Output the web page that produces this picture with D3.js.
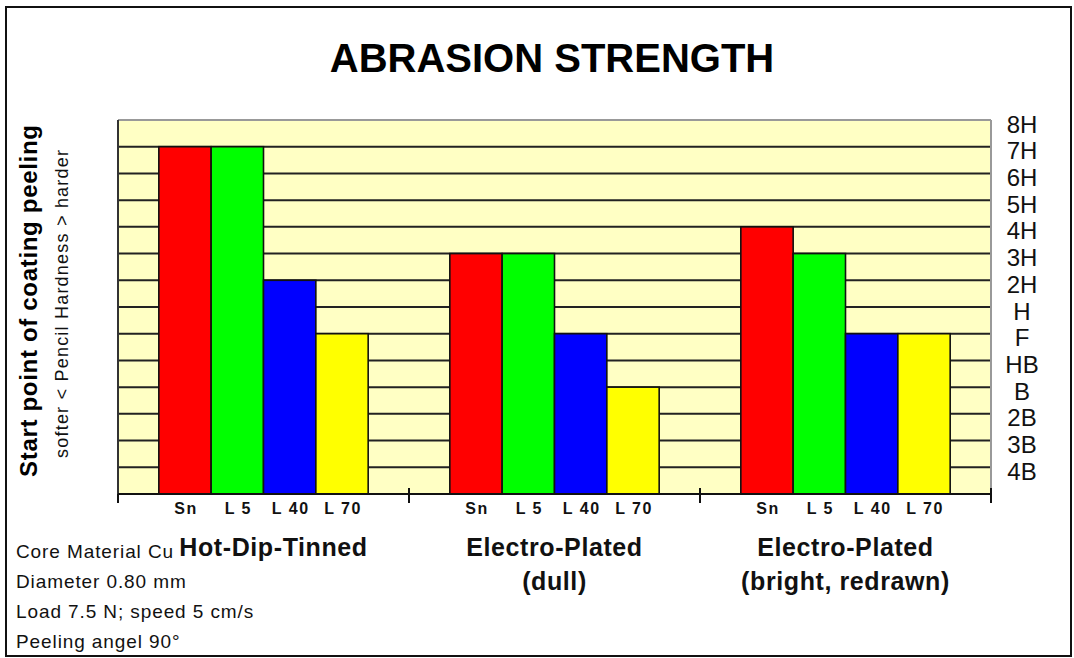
<!DOCTYPE html>
<html>
<head>
<meta charset="utf-8">
<script src="https://cdn.jsdelivr.net/npm/d3@7"></script>
<style>
  html, body { margin: 0; padding: 0; background: #fff; }
  svg { display: block; font-family: "Liberation Sans", Arial, sans-serif; }
</style>
</head>
<body>
<svg id="chart" width="1074" height="658"></svg>
<script>
// ---- data ----
const groups = ["Hot-Dip-Tinned", "Electro-Plated (dull)", "Electro-Plated (bright, redrawn)"];
const groupLabelLines = [["Hot-Dip-Tinned"], ["Electro-Plated", "(dull)"], ["Electro-Plated", "(bright, redrawn)"]];
const series = ["Sn", "L 5", "L 40", "L 70"];
const seriesColors = ["#ff0000", "#00ff00", "#0000ff", "#ffff00"];
// pencil hardness scale, index 1..14
const hardnessLabels = ["4B", "3B", "2B", "B", "HB", "F", "H", "2H", "3H", "4H", "5H", "6H", "7H", "8H"];
// values as hardness grade
const hotDipTinned = ["7H", "7H", "2H", "F"];
const electroDull = ["3H", "3H", "F", "B"];
const electroBright = ["4H", "3H", "F", "F"];
const footnotes = ["Core Material Cu", "Diameter 0.80 mm", "Load 7.5 N; speed 5 cm/s", "Peeling angel 90°"];
const title = "ABRASION STRENGTH";
const yTitle = "Start point of coating peeling";
const ySubtitle = "softer < Pencil Hardness > harder";

const values = [hotDipTinned, electroDull, electroBright];
const idx = h => hardnessLabels.indexOf(h) + 1;

// ---- layout ----
const svg = d3.select("#chart");
const plot = { left: 118, right: 991, top: 120, bottom: 494 };

// frame
svg.append("rect").attr("x", 6).attr("y", 7).attr("width", 1065).attr("height", 649)
  .attr("fill", "#fff").attr("stroke", "#111").attr("stroke-width", 2);

const y = d3.scaleLinear().domain([0, hardnessLabels.length]).range([plot.bottom, plot.top]);
const x0 = d3.scaleBand().domain(groups).range([plot.left, plot.right]).paddingInner(0).paddingOuter(0);
const x1 = d3.scaleBand().domain(series).range([0, x0.bandwidth()]).paddingInner(0).paddingOuter(0.78);
const color = d3.scaleOrdinal().domain(series).range(seriesColors);

// plot background
svg.append("rect").attr("x", plot.left).attr("y", plot.top)
  .attr("width", plot.right - plot.left).attr("height", plot.bottom - plot.top)
  .attr("fill", "#ffffc4");

// gridlines
svg.append("g").selectAll("line").data(d3.range(1, hardnessLabels.length)).join("line")
  .attr("x1", plot.left).attr("x2", plot.right)
  .attr("y1", d => y(d)).attr("y2", d => y(d))
  .attr("stroke", "#222").attr("stroke-width", 2);

// plot borders
svg.append("line").attr("x1", plot.left).attr("x2", plot.right).attr("y1", plot.top).attr("y2", plot.top)
  .attr("stroke", "#999").attr("stroke-width", 2);
svg.append("line").attr("x1", plot.right).attr("x2", plot.right).attr("y1", plot.top).attr("y2", plot.bottom)
  .attr("stroke", "#999").attr("stroke-width", 2);
svg.append("line").attr("x1", plot.left).attr("x2", plot.left).attr("y1", plot.top).attr("y2", plot.bottom)
  .attr("stroke", "#333").attr("stroke-width", 2);

// bars
const gBars = svg.append("g").selectAll("g").data(groups).join("g")
  .attr("transform", d => `translate(${x0(d)},0)`);
gBars.selectAll("rect").data((g, gi) => series.map((s, si) => ({ s, v: idx(values[gi][si]) }))).join("rect")
  .attr("x", d => x1(d.s)).attr("width", x1.bandwidth())
  .attr("y", d => y(d.v)).attr("height", d => y(0) - y(d.v))
  .attr("fill", d => color(d.s)).attr("stroke", "#111").attr("stroke-width", 1.6);

// bar labels
gBars.selectAll("text").data(series).join("text")
  .attr("x", d => x1(d) + x1.bandwidth() / 2 + 1).attr("y", 514)
  .attr("text-anchor", "middle").attr("font-size", 16).attr("font-weight", "bold")
  .attr("letter-spacing", 1.5).attr("fill", "#111").text(d => d);

// x axis line & ticks
svg.append("line").attr("x1", plot.left).attr("x2", plot.right).attr("y1", plot.bottom).attr("y2", plot.bottom)
  .attr("stroke", "#111").attr("stroke-width", 2);
const tickXs = groups.map(g => x0(g)).concat([x0(groups[groups.length - 1]) + x0.bandwidth()]);
svg.append("g").selectAll("line").data(tickXs).join("line")
  .attr("x1", d => d).attr("x2", d => d).attr("y1", (d, i) => i === 0 ? plot.bottom : plot.bottom - 6).attr("y2", plot.bottom + 9)
  .attr("stroke", "#111").attr("stroke-width", 2);

// group labels
svg.append("g").selectAll("text").data(groups).join("text")
  .attr("x", (d, i) => x0(d) + x0.bandwidth() / 2 + (i === 0 ? 10 : 0))
  .attr("y", 556).attr("text-anchor", "middle").attr("font-size", 25).attr("font-weight", "bold")
  .attr("letter-spacing", 0.6).attr("fill", "#111")
  .each(function (d, i) {
    const t = d3.select(this);
    groupLabelLines[i].forEach((line, li) => {
      t.append("tspan").attr("x", t.attr("x")).attr("dy", li === 0 ? 0 : 34).text(line);
    });
  });

// right axis labels
svg.append("g").selectAll("text").data(hardnessLabels).join("text")
  .attr("x", 1022).attr("y", (d, i) => y(i + 1) + 4)
  .attr("dominant-baseline", "central").attr("text-anchor", "middle")
  .attr("font-size", 24).attr("fill", "#111").text(d => d);

// title
svg.append("text").attr("x", 552).attr("y", 72).attr("text-anchor", "middle")
  .attr("font-size", 40).attr("font-weight", "bold").attr("fill", "#000").text(title);

// y titles
svg.append("text").attr("transform", "translate(37,301) rotate(-90)")
  .attr("text-anchor", "middle").attr("font-size", 24).attr("font-weight", "bold")
  .attr("textLength", 352).attr("lengthAdjust", "spacing").attr("fill", "#000").text(yTitle);
svg.append("text").attr("transform", "translate(68,304) rotate(-90)")
  .attr("text-anchor", "middle").attr("font-size", 18)
  .attr("textLength", 308).attr("lengthAdjust", "spacing").attr("fill", "#111").text(ySubtitle);

// footnotes
svg.append("g").selectAll("text").data(footnotes).join("text")
  .attr("x", 16).attr("y", (d, i) => 558 + i * 30)
  .attr("font-size", 19).attr("letter-spacing", 0.9).attr("fill", "#111").text(d => d);
</script>
</body>
</html>
